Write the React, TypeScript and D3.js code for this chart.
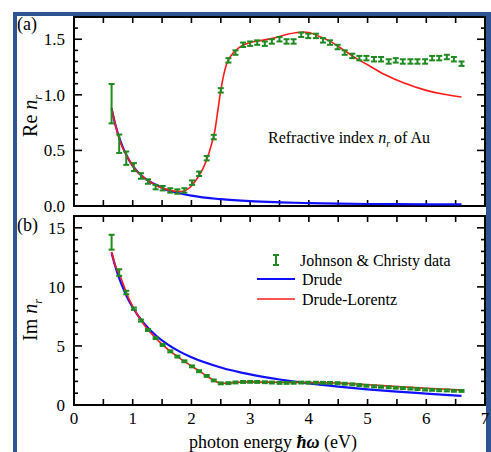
import React from 'react';
import * as d3 from 'd3';

// Johnson & Christy gold data
const energies = [0.64, 0.77, 0.89, 1.02, 1.14, 1.26, 1.39, 1.51, 1.64, 1.76, 1.88, 2.01, 2.13, 2.26, 2.38, 2.5, 2.63, 2.75, 2.88, 3.0, 3.12, 3.25, 3.37, 3.5, 3.62, 3.74, 3.87, 3.99, 4.12, 4.24, 4.36, 4.49, 4.61, 4.74, 4.86, 4.98, 5.11, 5.23, 5.36, 5.48, 5.6, 5.73, 5.85, 5.98, 6.1, 6.22, 6.35, 6.47, 6.6];
const reData = [0.92, 0.56, 0.43, 0.35, 0.27, 0.22, 0.17, 0.16, 0.14, 0.13, 0.14, 0.21, 0.29, 0.43, 0.62, 1.04, 1.31, 1.38, 1.45, 1.46, 1.47, 1.46, 1.48, 1.5, 1.48, 1.48, 1.54, 1.53, 1.53, 1.49, 1.47, 1.43, 1.38, 1.35, 1.33, 1.33, 1.32, 1.32, 1.3, 1.31, 1.3, 1.3, 1.3, 1.3, 1.33, 1.33, 1.34, 1.32, 1.28];
const reErr = [0.177, 0.083, 0.06, 0.036, 0.025, 0.02, 0.02, 0.02, 0.02, 0.02, 0.02, 0.02, 0.02, 0.02, 0.02, 0.02, 0.02, 0.02, 0.02, 0.02, 0.02, 0.02, 0.02, 0.02, 0.02, 0.02, 0.02, 0.02, 0.02, 0.02, 0.02, 0.02, 0.02, 0.02, 0.02, 0.02, 0.02, 0.02, 0.02, 0.02, 0.02, 0.02, 0.02, 0.02, 0.02, 0.02, 0.02, 0.02, 0.02];
const imData = [13.78, 11.21, 9.52, 8.15, 7.15, 6.35, 5.66, 5.08, 4.54, 4.1, 3.7, 3.27, 2.86, 2.46, 2.08, 1.83, 1.85, 1.91, 1.95, 1.96, 1.95, 1.93, 1.9, 1.87, 1.87, 1.88, 1.9, 1.89, 1.89, 1.88, 1.87, 1.85, 1.8, 1.75, 1.69, 1.63, 1.58, 1.54, 1.5, 1.46, 1.43, 1.39, 1.35, 1.3, 1.28, 1.25, 1.23, 1.2, 1.19];
const imErr = [0.63, 0.28, 0.15, 0.1, 0.09, 0.08, 0.08, 0.08, 0.08, 0.08, 0.08, 0.08, 0.08, 0.08, 0.08, 0.08, 0.08, 0.08, 0.08, 0.08, 0.08, 0.08, 0.08, 0.08, 0.08, 0.08, 0.08, 0.08, 0.08, 0.08, 0.08, 0.08, 0.08, 0.08, 0.08, 0.08, 0.08, 0.08, 0.08, 0.08, 0.08, 0.08, 0.08, 0.08, 0.08, 0.08, 0.08, 0.08, 0.08];

// Drude model curve
const drudeE = [0.64, 0.7, 0.8, 0.9, 1.0, 1.2, 1.4, 1.6, 1.8, 2.0, 2.5, 3.0, 3.5, 4.0, 4.5, 5.0, 5.5, 6.0, 6.6];
const drudeRe = [0.88, 0.74, 0.57, 0.45, 0.36, 0.25, 0.19, 0.14, 0.115, 0.093, 0.061, 0.043, 0.033, 0.026, 0.021, 0.018, 0.016, 0.015, 0.014];
const drudeIm = [12.9, 11.8, 10.33, 9.18, 8.25, 6.86, 5.86, 5.11, 4.52, 4.04, 3.18, 2.59, 2.16, 1.83, 1.56, 1.33, 1.14, 0.97, 0.77];

// Drude-Lorentz curve
const dlReE = [0.64, 0.7, 0.8, 0.9, 1.0, 1.2, 1.4, 1.6, 1.8, 1.9, 2.0, 2.1, 2.2, 2.3, 2.35, 2.4, 2.45, 2.5, 2.55, 2.6, 2.7, 2.8, 3.0, 3.2, 3.4, 3.6, 3.8, 3.9, 4.0, 4.2, 4.4, 4.6, 4.8, 5.0, 5.3, 5.6, 6.0, 6.3, 6.6];
const dlRe = [0.88, 0.74, 0.56, 0.45, 0.36, 0.25, 0.185, 0.145, 0.13, 0.14, 0.18, 0.25, 0.34, 0.48, 0.57, 0.68, 0.86, 1.04, 1.18, 1.28, 1.37, 1.42, 1.47, 1.49, 1.51, 1.54, 1.56, 1.565, 1.56, 1.52, 1.47, 1.4, 1.33, 1.27, 1.18, 1.11, 1.04, 1.005, 0.98];
const dlImE = [0.64, 0.7, 0.8, 0.9, 1.0, 1.2, 1.4, 1.6, 1.8, 2.0, 2.2, 2.4, 2.5, 2.6, 2.7, 2.8, 3.0, 3.5, 4.0, 4.5, 5.0, 5.5, 6.0, 6.6];
const dlIm = [12.95, 11.85, 10.75, 9.4, 8.35, 6.75, 5.62, 4.71, 3.97, 3.3, 2.66, 2.04, 1.86, 1.84, 1.88, 1.93, 1.96, 1.92, 1.9, 1.86, 1.72, 1.56, 1.42, 1.26];

const xTicks = [0, 1, 2, 3, 4, 5, 6, 7];
const reTicks = [0, 0.5, 1.0, 1.5];
const imTicks = [0, 5, 10, 15];

const GREEN = '#1f8a1f';
const BLUE = '#1010ff';
const RED = '#ff1a1a';
const FRAME = '#2e5591';
const FONT = '"Liberation Serif", serif';

const x = d3.scaleLinear().domain([0, 7]).range([74, 485]);
const yRe = d3.scaleLinear().domain([0, 1.7]).range([206, 17]);
const yIm = d3.scaleLinear().domain([0, 16]).range([405, 216]);

const curve = (xs: number[], ys: number[], y: d3.ScaleLinear<number, number>) =>
  d3.line<number>()
    .x((_, i) => x(xs[i]))
    .y((d) => y(d))
    .curve(d3.curveMonotoneX)(ys) as string;

const ErrBar = ({ cx, y0, y1 }: { cx: number; y0: number; y1: number }) => (
  <g stroke={GREEN} strokeWidth={2}>
    <line x1={cx} x2={cx} y1={y0} y2={y1} />
    <line x1={cx - 3} x2={cx + 3} y1={y0} y2={y0} />
    <line x1={cx - 3} x2={cx + 3} y1={y1} y2={y1} />
  </g>
);

const Panel = ({ y, minorStep, majorStep, max, ticks, fmt }: any) => {
  const [bottom, top] = y.range();
  const left = x.range()[0];
  const right = x.range()[1];
  const yMinor = d3.range(0, max + 1e-9, minorStep);
  const xMinor = d3.range(0, 7.01, 0.5);
  return (
    <g>
      <rect x={left} y={top} width={right - left} height={bottom - top} fill="none" stroke="#000" strokeWidth={2} />
      {yMinor.map((v: number) => {
        const major = Math.abs(v / majorStep - Math.round(v / majorStep)) < 1e-6;
        const len = major ? 8 : 4;
        return (
          <g key={'y' + v} stroke="#000" strokeWidth={1.6}>
            <line x1={left} x2={left + len} y1={y(v)} y2={y(v)} />
            <line x1={right} x2={right - len} y1={y(v)} y2={y(v)} />
          </g>
        );
      })}
      {xMinor.map((v: number) => (
        <g key={'x' + v} stroke="#000" strokeWidth={1.6}>
          <line x1={x(v)} x2={x(v)} y1={bottom} y2={bottom - 6} />
          <line x1={x(v)} x2={x(v)} y1={top} y2={top + 6} />
        </g>
      ))}
      {ticks.map((v: number) => (
        <text key={'t' + v} x={65} y={y(v) + 6} textAnchor="end" fontSize={17} fontFamily={FONT}>{fmt(v)}</text>
      ))}
    </g>
  );
};

export default function App() {
  return (
    <div style={{ position: 'absolute', left: 0, top: 0 }}>
      <svg width={491} height={452} style={{ display: 'block', background: '#fff' }}>
        <rect x={13} y={12} width={4} height={440} fill={FRAME} />
        <rect x={13} y={12} width={478} height={4} fill={FRAME} />
        <rect x={486} y={12} width={5} height={440} fill={FRAME} />

        <Panel y={yRe} minorStep={0.1} majorStep={0.5} max={1.7} ticks={reTicks} fmt={(v: number) => v.toFixed(1)} />
        <Panel y={yIm} minorStep={1} majorStep={5} max={16} ticks={imTicks} fmt={(v: number) => String(v)} />

        {/* top panel curves */}
        <path d={curve(drudeE, drudeRe, yRe)} fill="none" stroke={BLUE} strokeWidth={2.2} />
        <path d={curve(dlReE, dlRe, yRe)} fill="none" stroke={RED} strokeWidth={1.6} />
        {energies.map((e, i) => (
          <ErrBar key={'re' + i} cx={x(e)} y0={yRe(reData[i] + reErr[i])} y1={yRe(reData[i] - reErr[i])} />
        ))}

        {/* bottom panel curves */}
        <path d={curve(drudeE, drudeIm, yIm)} fill="none" stroke={BLUE} strokeWidth={2.2} />
        <path d={curve(dlImE, dlIm, yIm)} fill="none" stroke={RED} strokeWidth={1.6} />
        {energies.map((e, i) => (
          <ErrBar key={'im' + i} cx={x(e)} y0={yIm(imData[i] + imErr[i])} y1={yIm(imData[i] - imErr[i])} />
        ))}

        {xTicks.map((v) => (
          <text key={'xl' + v} x={x(v)} y={424} textAnchor="middle" fontSize={17} fontFamily={FONT}>{v}</text>
        ))}

        <text x={17} y={30} fontSize={18} fontFamily={FONT}>(a)</text>
        <text x={17} y={231} fontSize={18} fontFamily={FONT}>(b)</text>

        <text transform="translate(37,116) rotate(-90)" textAnchor="middle" fontSize={20} fontFamily={FONT}>
          Re <tspan fontStyle="italic">n</tspan><tspan fontSize={12} fontStyle="italic" dy={5}>r</tspan>
        </text>
        <text transform="translate(37,320) rotate(-90)" textAnchor="middle" fontSize={20} fontFamily={FONT}>
          Im <tspan fontStyle="italic">n</tspan><tspan fontSize={12} fontStyle="italic" dy={5}>r</tspan>
        </text>

        <text x={268} y={143} fontSize={16} fontFamily={FONT}>
          Refractive index <tspan fontStyle="italic">n</tspan><tspan fontSize={10} fontStyle="italic" dy={4}>r</tspan><tspan dy={-4}> of Au</tspan>
        </text>

        <text x={273} y={448} textAnchor="middle" fontSize={18} fontFamily={FONT}>
          photon energy <tspan fontWeight="bold" fontStyle="italic">ħω</tspan> (eV)
        </text>

        {/* legend */}
        <ErrBar cx={276} y0={255} y1={265} />
        <text x={300} y={266} fontSize={16} fontFamily={FONT}>Johnson &amp; Christy data</text>
        <line x1={257} x2={295} y1={279} y2={279} stroke={BLUE} strokeWidth={2.2} />
        <text x={302} y={285} fontSize={16} fontFamily={FONT}>Drude</text>
        <line x1={257} x2={295} y1={299} y2={299} stroke={RED} strokeWidth={1.6} />
        <text x={302} y={305} fontSize={16} fontFamily={FONT}>Drude-Lorentz</text>
      </svg>
    </div>
  );
}
